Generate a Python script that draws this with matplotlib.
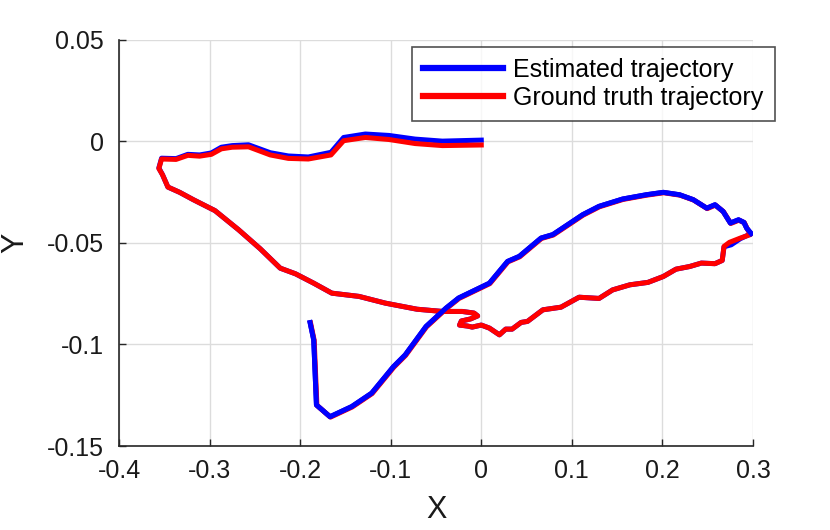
import numpy as np
import matplotlib.pyplot as plt

plt.rcParams['font.family'] = ['Liberation Sans', 'DejaVu Sans']

# Estimated trajectory (blue)
est_x = [0.000, -0.043, -0.073, -0.102, -0.128, -0.152, -0.166, -0.191, -0.213, -0.233,
         -0.257, -0.275, -0.287, -0.298, -0.311, -0.324, -0.337, -0.353, -0.356, -0.352,
         -0.346, -0.333, -0.318, -0.294, -0.268, -0.244, -0.222, -0.205, -0.185, -0.165,
         -0.135, -0.106, -0.071, -0.043, -0.021, -0.008, -0.004, -0.012, -0.022, -0.024,
         -0.015, -0.010, 0.000, 0.009, 0.020, 0.027, 0.034, 0.044, 0.051, 0.068,
         0.088, 0.108, 0.130, 0.145, 0.164, 0.184, 0.201, 0.215, 0.230, 0.243,
         0.258, 0.266, 0.268, 0.276, 0.286, 0.298, 0.293, 0.290, 0.284, 0.275,
         0.267, 0.258, 0.249, 0.234, 0.219, 0.201, 0.182, 0.156, 0.130, 0.112,
         0.079, 0.066, 0.042, 0.029, 0.009, -0.025, -0.039, -0.061, -0.084, -0.097,
         -0.121, -0.143, -0.167, -0.182, -0.185, -0.189]
est_y = [0.0005, 0.0000, 0.0010, 0.0028, 0.0035, 0.0018, -0.0055, -0.0078, -0.0073, -0.0057,
         -0.0018, -0.0022, -0.0030, -0.0058, -0.0068, -0.0065, -0.0086, -0.0084, -0.0132, -0.0165,
         -0.0226, -0.0252, -0.0288, -0.0342, -0.0436, -0.0530, -0.0625, -0.0653, -0.0699, -0.0748,
         -0.0764, -0.0797, -0.0827, -0.0838, -0.0838, -0.0846, -0.0860, -0.0875, -0.0885, -0.0905,
         -0.0910, -0.0915, -0.0905, -0.0920, -0.0953, -0.0925, -0.0925, -0.0892, -0.0887, -0.0830,
         -0.0817, -0.0768, -0.0774, -0.0732, -0.0707, -0.0695, -0.0666, -0.0630, -0.0617, -0.0600,
         -0.0603, -0.0587, -0.0520, -0.0510, -0.0480, -0.0455, -0.0428, -0.0400, -0.0387, -0.0403,
         -0.0346, -0.0313, -0.0330, -0.0288, -0.0264, -0.0252, -0.0264, -0.0285, -0.0321, -0.0362,
         -0.0460, -0.0477, -0.0567, -0.0592, -0.0699, -0.0772, -0.0822, -0.0912, -0.1052, -0.1110,
         -0.1240, -0.1306, -0.1356, -0.1298, -0.0978, -0.0893]

# Ground truth trajectory (red)
gt_x = [0.000, -0.043, -0.073, -0.102, -0.128, -0.152, -0.166, -0.191, -0.213, -0.233,
        -0.257, -0.275, -0.287, -0.298, -0.311, -0.324, -0.337, -0.353, -0.356, -0.352,
        -0.346, -0.333, -0.318, -0.294, -0.268, -0.244, -0.222, -0.205, -0.185, -0.165,
        -0.135, -0.106, -0.071, -0.043, -0.021, -0.008, -0.004, -0.012, -0.022, -0.024,
        -0.015, -0.010, 0.000, 0.009, 0.020, 0.027, 0.034, 0.044, 0.051, 0.068,
        0.088, 0.108, 0.130, 0.145, 0.164, 0.184, 0.201, 0.215, 0.230, 0.243,
        0.258, 0.266, 0.268, 0.274, 0.286, 0.297, 0.2935, 0.2905, 0.2845, 0.2755,
        0.2675, 0.2585, 0.2495, 0.2345, 0.2195, 0.2015, 0.1825, 0.1565, 0.1305, 0.1125,
        0.0795, 0.0665, 0.0425, 0.0295, 0.0095, -0.0245, -0.0385, -0.0605, -0.0835, -0.0965,
        -0.1205, -0.1425, -0.1665, -0.1815, -0.1845, -0.1885]
gt_y = [-0.0019, -0.0022, -0.0012, 0.0008, 0.0018, 0.0002, -0.0068, -0.0088, -0.0085, -0.0068,
        -0.0028, -0.0030, -0.0038, -0.0065, -0.0074, -0.0070, -0.0090, -0.0088, -0.0135, -0.0165,
        -0.0226, -0.0252, -0.0288, -0.0342, -0.0436, -0.0530, -0.0625, -0.0653, -0.0699, -0.0748,
        -0.0764, -0.0797, -0.0827, -0.0838, -0.0838, -0.0846, -0.0860, -0.0875, -0.0885, -0.0905,
        -0.0910, -0.0915, -0.0905, -0.0920, -0.0953, -0.0925, -0.0925, -0.0892, -0.0887, -0.0830,
        -0.0817, -0.0768, -0.0774, -0.0732, -0.0707, -0.0695, -0.0666, -0.0630, -0.0617, -0.0600,
        -0.0603, -0.0587, -0.0518, -0.0498, -0.0477, -0.0460, -0.0430, -0.0402, -0.0389, -0.0405,
        -0.0348, -0.0315, -0.0332, -0.0290, -0.0266, -0.0254, -0.0266, -0.0287, -0.0323, -0.0364,
        -0.0462, -0.0479, -0.0569, -0.0594, -0.0701, -0.0774, -0.0824, -0.0914, -0.1054, -0.1112,
        -0.1242, -0.1308, -0.1358, -0.1300, -0.0980, -0.0895]

xticks = [-0.4, -0.3, -0.2, -0.1, 0.0, 0.1, 0.2, 0.3]
xtick_labels = ['-0.4', '-0.3', '-0.2', '-0.1', '0', '0.1', '0.2', '0.3']
yticks = [-0.15, -0.1, -0.05, 0.0, 0.05]
ytick_labels = ['-0.15', '-0.1', '-0.05', '0', '0.05']

fig = plt.figure(figsize=(8.3, 5.3), dpi=100)
ax = fig.add_axes([119 / 830, 1 - 446 / 530, 634 / 830, 406.5 / 530])

ax.plot(est_x, est_y, color=(0, 0, 1), lw=3.6, label='Estimated trajectory', solid_joinstyle='round')
ax.plot(gt_x, gt_y, color=(1, 0, 0), lw=3.6, label='Ground truth trajectory', solid_joinstyle='round')
# the return leg of the estimate sits on top of the ground truth in the original
k = 65
ax.plot(est_x[k:], est_y[k:], color=(0, 0, 1), lw=3.6, solid_joinstyle='round')

ax.set_xlim(-0.4, 0.3)
ax.set_ylim(-0.15, 0.05)
ax.set_xticks(xticks, xtick_labels)
ax.set_yticks(yticks, ytick_labels)
ax.grid(True, color='#dcdcdc', lw=1)
ax.set_axisbelow(True)
for s in ['top', 'right']:
    ax.spines[s].set_visible(False)
for s in ['left', 'bottom']:
    ax.spines[s].set_color('#262626')
    ax.spines[s].set_linewidth(1.2)
ax.tick_params(direction='in', length=5, width=1, colors='#262626', labelsize=18,
               pad=9, labelcolor='#1a1a1a')
ax.tick_params(axis='y', pad=11)
ax.set_xlabel('X', fontsize=22, color='#1a1a1a', labelpad=9)
ax.set_ylabel('Y', fontsize=22, color='#1a1a1a', labelpad=12)

leg = ax.legend(loc='upper left', bbox_to_anchor=(0.462, 0.982), fontsize=18,
                handlelength=3.2, handletextpad=0.4, labelspacing=0.15,
                borderpad=0.45, borderaxespad=0, frameon=True, fancybox=False)
leg.get_frame().set_edgecolor('#262626')
leg.get_frame().set_linewidth(1.2)
for h in leg.get_lines():
    h.set_linewidth(4.5)

fig.savefig('out.png', dpi=100)
